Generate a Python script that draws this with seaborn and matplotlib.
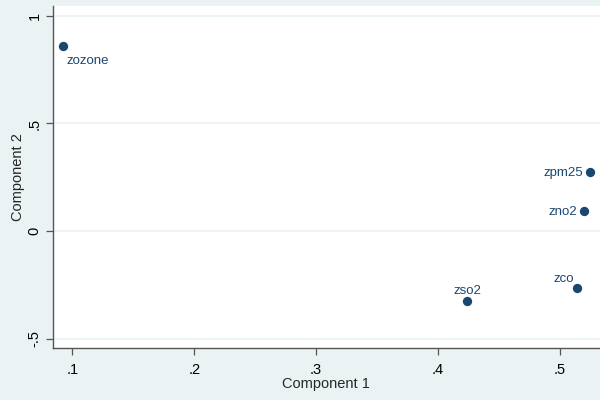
import matplotlib
matplotlib.use("Agg")
import matplotlib.pyplot as plt
import seaborn as sns
import pandas as pd

variables = ["zpm25", "zno2", "zso2", "zco", "zozone"]
comp1 = [0.525, 0.520, 0.424, 0.514, 0.092]
comp2 = [0.276, 0.095, -0.325, -0.265, 0.859]

x_ticks = [0.1, 0.2, 0.3, 0.4, 0.5]
x_ticklabels = [".1", ".2", ".3", ".4", ".5"]
y_ticks = [-0.5, 0, 0.5, 1]
y_ticklabels = ["-.5", "0", ".5", "1"]

df = pd.DataFrame({"var": variables, "c1": comp1, "c2": comp2})

sns.set_style("white")
plt.rcParams["font.family"] = ["Liberation Sans", "DejaVu Sans"]

bg = "#eaf2f3"
navy = "#1a476f"

fig = plt.figure(figsize=(6, 4), dpi=100, facecolor=bg)
ax = fig.add_axes([0.0875, 0.13, 0.9125, 0.855])
ax.set_facecolor("white")

sns.scatterplot(data=df, x="c1", y="c2", ax=ax, color=navy, s=45,
                edgecolor=navy, linewidth=0, zorder=3)

# label placement (Stata clock positions)
placement = {
    "zozone": dict(xytext=(3, -6), ha="left", va="top"),
    "zpm25": dict(xytext=(-5, -1), ha="right", va="center"),
    "zno2": dict(xytext=(-5, -1), ha="right", va="center"),
    "zco": dict(xytext=(-2, 2), ha="right", va="bottom"),
    "zso2": dict(xytext=(0, 3), ha="center", va="bottom"),
}
for v, x, y in zip(variables, comp1, comp2):
    p = placement[v]
    ax.annotate(v, (x, y), xytext=p["xytext"], textcoords="offset points",
                ha=p["ha"], va=p["va"], color=navy, fontsize=9.5)

ax.set_xlim(0.0837, 0.533)
ax.set_ylim(-0.544, 1.046)
ax.set_xticks(x_ticks)
ax.set_xticklabels(x_ticklabels)
ax.set_yticks(y_ticks)
ax.set_yticklabels(y_ticklabels, rotation=90, va="center")

ax.grid(axis="y", color=bg, linewidth=1.2)
ax.grid(axis="x", visible=False)
ax.set_axisbelow(True)

for s in ["top", "right"]:
    ax.spines[s].set_visible(False)
for s in ["left", "bottom"]:
    ax.spines[s].set_color("#555555")
    ax.spines[s].set_linewidth(1.0)

ax.tick_params(axis="both", which="major", direction="out", length=5,
               width=0.9, color="#555555", labelsize=10.5, labelcolor="black",
               left=True, bottom=True)
ax.tick_params(axis="x", pad=6)
ax.tick_params(axis="y", pad=3)

ax.set_xlabel("Component 1", fontsize=10.5, labelpad=0)
ax.set_ylabel("Component 2", fontsize=10.5, labelpad=2)

fig.savefig("out.png", dpi=100, facecolor=bg)
